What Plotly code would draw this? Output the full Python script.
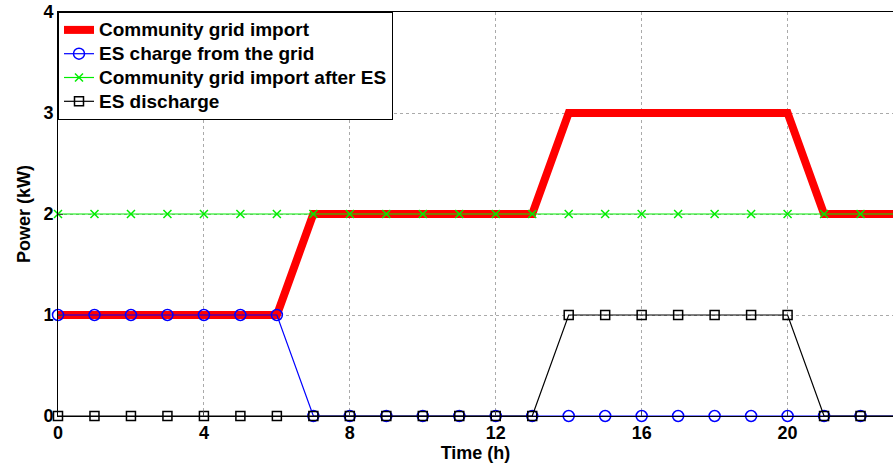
import plotly.graph_objects as go

hours = list(range(0, 24))
grid_import = [1]*7 + [2]*7 + [3]*7 + [2]*3
es_charge = [1]*7 + [0]*17
grid_after_es = [2]*24
es_discharge = [0]*14 + [1]*7 + [0]*3
series_names = ["Community grid import", "ES charge from the grid",
                "Community grid import after ES", "ES discharge"]

FONT = "Liberation Sans, Arial, Helvetica, sans-serif"


def big(s):
    return '<span style="font-size:19px">' + s + '</span>'


fig = go.Figure()
fig.add_trace(go.Scatter(x=hours, y=grid_import, mode="lines", name=big(series_names[0]),
                         line=dict(color="#ff0000", width=8), cliponaxis=False))
fig.add_trace(go.Scatter(x=hours, y=es_charge, mode="lines+markers", name=big(series_names[1]),
                         line=dict(color="#0000ff", width=1.2),
                         marker=dict(symbol="circle-open", size=11, color="#0000ff", line=dict(width=1.5)),
                         cliponaxis=False))
fig.add_trace(go.Scatter(x=hours, y=grid_after_es, mode="lines+markers", name=big(series_names[2]),
                         line=dict(color="#00ee00", width=1.2),
                         marker=dict(symbol="x-thin-open", size=8, color="#00ee00", line=dict(width=1.5, color="#00ee00")),
                         cliponaxis=False))
fig.add_trace(go.Scatter(x=hours, y=es_discharge, mode="lines+markers", name=big(series_names[3]),
                         line=dict(color="#000000", width=1.2),
                         marker=dict(symbol="square-open", size=9, color="#000000", line=dict(width=1.5)),
                         cliponaxis=False))

fig.update_layout(
    width=893, height=471,
    margin=dict(l=58, r=0, t=12, b=55),
    plot_bgcolor="white", paper_bgcolor="white",
    font=dict(family=FONT, size=18, color="black", weight="bold"),
    legend=dict(x=0, y=1, xanchor="left", yanchor="top",
                bgcolor="white", bordercolor="black", borderwidth=1,
                font=dict(family=FONT, size=16, color="black", weight="bold"),
                tracegroupgap=0, itemwidth=30),
    xaxis=dict(range=[0, 22.89], tickvals=[0, 4, 8, 12, 16, 20], ticks="inside", ticklen=5,
               showline=True, linecolor="black", linewidth=1, mirror=True,
               showgrid=True, gridcolor="#aaaaaa", griddash="dot", gridwidth=1, zeroline=False,
               title=dict(text="Time (h)", font=dict(size=18, weight="bold"), standoff=0),
               tickfont=dict(size=18, weight="bold")),
    yaxis=dict(range=[0, 4], tickvals=[0, 1, 2, 3, 4], ticks="inside", ticklen=5,
               showline=True, linecolor="black", linewidth=1, mirror=False,
               showgrid=True, gridcolor="#aaaaaa", griddash="dot", gridwidth=1, zeroline=False,
               title=dict(text="Power (kW)", font=dict(size=18, weight="bold"), standoff=8),
               tickfont=dict(size=18, weight="bold")),
)

fig.write_html("out.html")
